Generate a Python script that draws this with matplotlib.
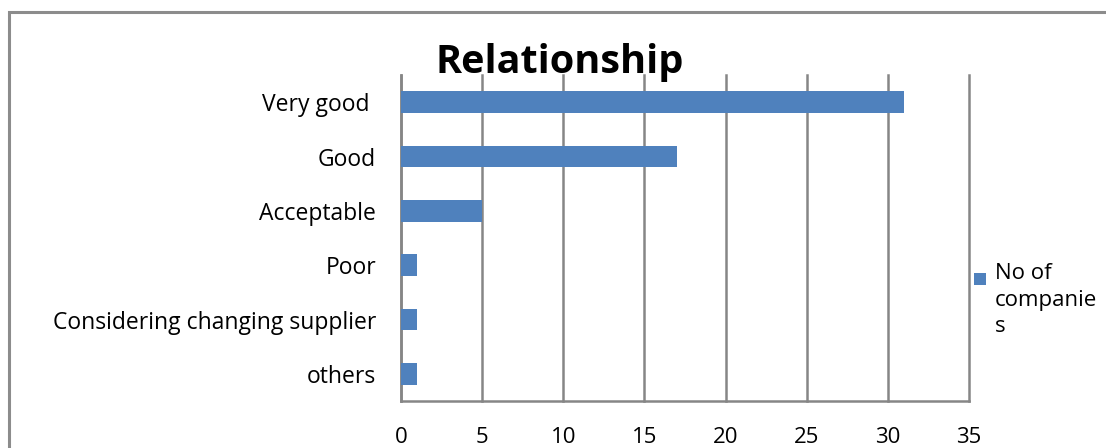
import matplotlib
matplotlib.use("Agg")
import matplotlib.pyplot as plt
from matplotlib.patches import Rectangle

categories = ["Very good ", "Good", "Acceptable", "Poor", "Considering changing supplier", "others"]
values = [31, 17, 5, 1, 1, 1]
xticks = [0, 5, 10, 15, 20, 25, 30, 35]
series_name = "No of\ncompanie\ns"
title = "Relationship"

plt.rcParams['font.family'] = ['Open Sans', 'DejaVu Sans']

W, H = 1106, 448
fig = plt.figure(figsize=(W / 100, H / 100), dpi=100)

# outer frame
fig.patches.append(Rectangle((9 / W, -0.1), 1.2, (H - 12) / H + 0.1, transform=fig.transFigure,
                             fill=False, edgecolor="#8c8c8c", linewidth=2.2, zorder=0))

left, right = 401, 969
top, bottom = 75, 401
ax = fig.add_axes([left / W, 1 - bottom / H, (right - left) / W, (bottom - top) / H])

pos = list(range(len(categories)))
bars = ax.barh(pos, values, height=0.4, color="#4F81BD", zorder=3)
ax.set_ylim(len(categories) - 0.5, -0.5)
ax.set_xlim(0, 35)
ax.set_xticks(xticks)
ax.set_xticklabels([str(t) for t in xticks], fontsize=16)
ax.set_yticks(pos)
ax.set_yticklabels(categories, fontsize=16.5)
ax.tick_params(axis="both", length=0)
ax.tick_params(axis="x", pad=19)
ax.tick_params(axis="y", pad=18)
ax.grid(axis="x", color="#868686", linewidth=1.8, zorder=1)
for gl in ax.get_xgridlines():
    gl.set_clip_on(False)
for s in ["top", "right"]:
    ax.spines[s].set_visible(False)
for s in ["left", "bottom"]:
    ax.spines[s].set_color("#868686")
    ax.spines[s].set_linewidth(1.8)

fig.text(560 / W, 1 - 62 / H, title, fontsize=28.5, fontweight="bold", ha="center", va="center")

# legend (first line aligned with marker, as in the reference)
fig.patches.append(Rectangle((974 / W, 1 - 285 / H), 12 / W, 12 / H, transform=fig.transFigure,
                             facecolor="#4F81BD", edgecolor="none"))
fig.text(995 / W, 1 - 263 / H, series_name, fontsize=16, ha="left", va="top", linespacing=1.35)

fig.savefig("out.png", dpi=100)
